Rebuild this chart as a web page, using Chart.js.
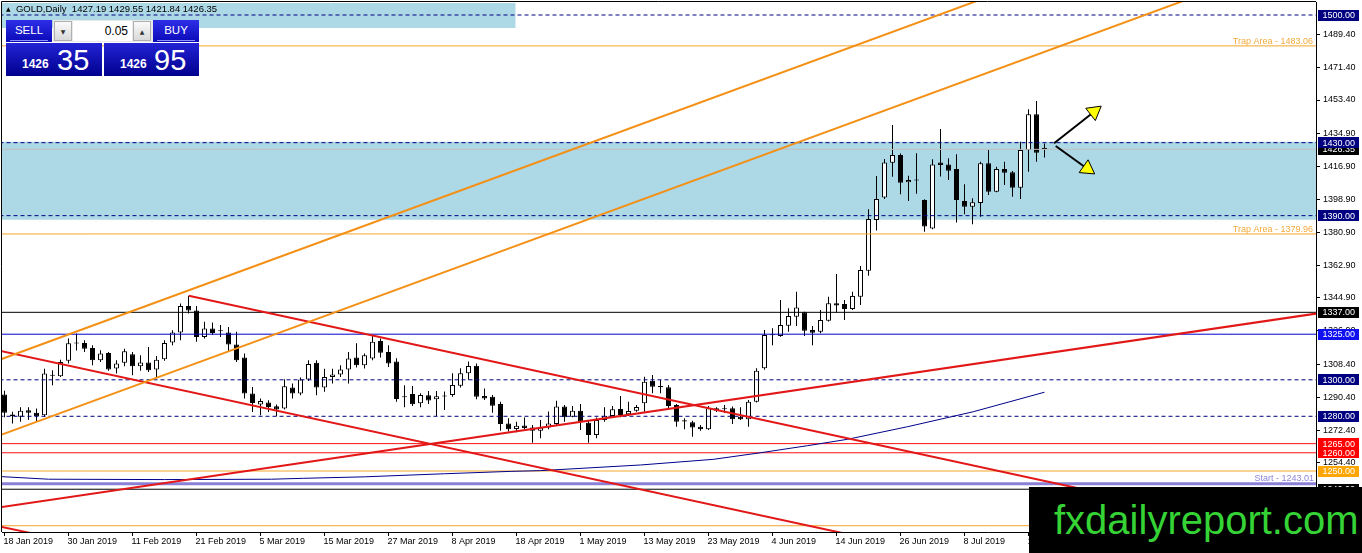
<!DOCTYPE html>
<html>
<head>
<meta charset="utf-8">
<script src="https://cdn.jsdelivr.net/npm/chart.js@4.4.0/dist/chart.umd.min.js"></script>
<style>
html,body{margin:0;padding:0;background:#fff;overflow:hidden;}
#wrap{position:relative;width:1362px;height:553px;}
#c{position:absolute;left:0;top:0;}
.ov{position:absolute;z-index:2;}
.hdr{left:6px;top:3px;font:9.5px "Liberation Sans",Arial,sans-serif;color:#000;white-space:pre;line-height:12px;}
.hdr .tri{font:6px "DejaVu Sans",sans-serif;vertical-align:1px;}
.btn{top:20px;height:22px;width:46px;background:linear-gradient(#2e2ee8,#0a0ab8);color:#fff;font:11.5px "Liberation Sans",Arial,sans-serif;text-align:center;line-height:21px;}
.btn .bar{position:absolute;left:4px;right:4px;bottom:1px;height:1px;background:#8f90ff;}
.lot{left:53px;top:20px;width:100px;height:22px;background:#e9e9e9;}
.lot .arr{position:absolute;top:1px;width:18px;height:20px;background:linear-gradient(#fafafa,#d9d9d9);border:1px solid #b0b0b0;box-sizing:border-box;font:6px "DejaVu Sans",sans-serif;color:#333;text-align:center;line-height:19px;}
.lot .inp{position:absolute;left:20px;top:1px;width:59px;height:20px;background:#fff;font:12px "Liberation Sans",Arial,sans-serif;color:#000;text-align:right;line-height:20px;padding-right:4px;box-sizing:border-box;}
.px{top:43px;height:33px;background:linear-gradient(#2323d6,#00008e);color:#fff;}
.px .sm{position:absolute;bottom:5px;font:bold 12px "Liberation Sans",Arial,sans-serif;}
.px .lg{position:absolute;bottom:1px;font:29px "Liberation Sans",Arial,sans-serif;line-height:29px;}
.wm{left:1029px;top:487px;width:333px;height:66px;background:#000;}
.wm span{position:absolute;left:25px;top:10px;font:40px "Liberation Sans",Arial,sans-serif;color:#35d335;line-height:46px;white-space:nowrap;}
</style>
</head>
<body>
<div id="wrap">
<canvas id="c" width="1362" height="553"></canvas>
<div class="ov hdr" id="hdr"></div>
<div class="ov btn" style="left:6px;">SELL<div class="bar"></div></div>
<div class="ov lot"><div class="arr" style="left:1px;">▼</div><div class="inp">0.05</div><div class="arr" style="left:80px;">▲</div></div>
<div class="ov btn" style="left:153px;">BUY<div class="bar"></div></div>
<div class="ov px" style="left:6px;width:96px;"><span class="sm" style="left:16px;">1426</span><span class="lg" style="left:51px;">35</span></div>
<div class="ov px" style="left:104px;width:95px;"><span class="sm" style="left:16px;">1426</span><span class="lg" style="left:50px;">95</span></div>
<div class="ov wm"><span>fxdailyreport.com</span></div>
</div>
<script>
// ---------------- DATA ----------------
const tickLabels = ['18 Jan 2019','30 Jan 2019','11 Feb 2019','21 Feb 2019','5 Mar 2019','15 Mar 2019','27 Mar 2019','8 Apr 2019','18 Apr 2019','1 May 2019','13 May 2019','23 May 2019','4 Jun 2019','14 Jun 2019','26 Jun 2019','8 Jul 2019','18 Jul 2019'];
const tickBars = [0,8,16,24,32,40,48,56,64,72,80,88,96,104,112,120,128];
const yTicks = [1489.4,1471.4,1453.4,1434.9,1416.9,1398.9,1380.9,1362.9,1344.9,1326.9,1308.4,1290.4,1272.4,1254.4,1236.4];

const opens = [1292,1281,1279.8,1283.3,1282,1280.5,1302.6,1302,1310.4,1319.9,
1320.2,1317.5,1310.7,1314.7,1306.2,1309.3,1314,1307.5,1309.5,1305.6,
1311.3,1320.4,1325.9,1340.4,1338,1323.5,1328.1,1327,1325.9,1319.4,
1312.2,1292.5,1286.4,1287.5,1285.5,1284.2,1295.8,1292.5,1300.2,1309.3,
1295.8,1301.6,1302.9,1305.6,1312.2,1308,1311.7,1321.3,1315.3,1310,
1291,1292.2,1287.1,1291.5,1289.4,1290.8,1291.7,1296.8,1303.6,1307.7,
1291.1,1290.7,1286.7,1276.1,1273,1275,1273.9,1272.1,1273.9,1275.8,
1285.3,1279.8,1283.1,1276.5,1269.7,1278,1280.2,1284,1281.1,1283.1,
1287.1,1299.5,1296.6,1295.9,1286.2,1277.8,1276.7,1274.3,1272.9,1283.1,
1284.2,1284.4,1279.8,1278.4,1288,1306.3,1324.8,1324,1329.7,1334.6,
1337,1327.3,1326.4,1332.4,1342,1341.6,1338.8,1345.6,1359.8,1387.6,
1400,1419,1423.2,1408.3,1409.6,1398.6,1383,1419.2,1418.1,1415.6,
1398,1394.9,1397,1418.7,1403.1,1415.6,1413.8,1405.3,1426,1445.6,
1427.19];
const highs = [1294,1282.5,1285,1285,1284.3,1306,1305.3,1311,1322.6,1325.4,
1321.7,1319,1316.2,1315.3,1310.7,1317,1315.3,1313.5,1318,1313,
1321.7,1327.2,1341.8,1346.1,1340.4,1331.8,1331.4,1330,1329,1326.3,
1314.4,1296,1289.7,1288.8,1286.4,1300.3,1298,1301.3,1310.7,1310.7,
1306,1306,1308,1315.3,1320,1314.4,1324.5,1322.6,1319,1311.8,
1297,1296.6,1292.6,1293.9,1293.9,1293.6,1303.6,1306.3,1310,1309,
1295.3,1291.7,1288,1278.9,1277,1279.4,1275.2,1278,1282.6,1288.5,
1286.2,1285.7,1286.7,1277.6,1279.4,1284.9,1285.7,1291.1,1288,1286.2,
1301.7,1302.6,1299.9,1297.2,1286.7,1278.9,1277.6,1275.2,1285.7,1285,
1286.2,1285.3,1284.9,1288.9,1306.3,1327.3,1328.2,1343.8,1339.2,1348.3,
1337.3,1329.5,1338.3,1345.6,1358,1343.8,1348.3,1362.4,1393.5,1411.7,
1421,1439.7,1424.1,1411.9,1424.2,1399,1420.9,1437.5,1421.4,1423.6,
1407.2,1399.5,1419.6,1426,1416.8,1419.6,1414.5,1430.5,1448.3,1452.9,
1429.55];
const lows = [1279.5,1276,1277,1278,1277,1279.8,1297,1301.6,1309,1316,
1315.3,1308,1309.8,1304.9,1303.4,1307.5,1302.5,1305,1304.3,1301.6,
1310.4,1319,1321.7,1336.4,1320.8,1322.6,1324.5,1323.5,1315.7,1309.8,
1289.7,1282.4,1280.6,1282.4,1280,1283.7,1289.7,1291.6,1299.4,1291.6,
1293.4,1298,1301.6,1298,1306.7,1306.2,1310.7,1312.2,1307,1288,
1285,1285.6,1285,1286.7,1280.2,1283.4,1290.7,1295.8,1300,1289.3,
1288.9,1282,1272.1,1271.6,1271.2,1272.5,1265.5,1268,1272.9,1275.2,
1277,1279.5,1272.5,1265.5,1267.9,1277,1279.5,1279.5,1280.2,1282.5,
1282.5,1292.6,1292.6,1284.4,1274.3,1272.9,1268.8,1272.1,1272.5,1282.3,
1282,1275.8,1277.9,1274.3,1287.5,1305.5,1319,1323.6,1326.4,1329.5,
1324,1319,1325.5,1331.9,1336.8,1332.8,1338.3,1341,1357,1381.8,
1399.1,1411.3,1401.7,1398,1402,1381.2,1382.6,1411.4,1409.5,1386.3,
1390.7,1385.3,1389.4,1401.3,1402.8,1406.8,1400.4,1399.1,1414.1,1419.6,
1421.84];
const closes = [1282,1280,1283,1282,1280,1303.5,1302.2,1309.8,1320,1320.2,
1317,1310.7,1314.4,1305.6,1309,1315.7,1307.5,1309.5,1305.3,1311,
1320.2,1325.9,1340.4,1338,1323.5,1328.1,1325.7,1326.6,1319.4,1310.7,
1292.5,1287.3,1288.4,1285.1,1283.7,1296.5,1292.5,1300.2,1308.6,1295.8,
1301.6,1302.9,1305.6,1311.7,1308,1313.5,1320.8,1314.8,1309,1289.5,
1290.5,1286.6,1291.7,1288.6,1291,1291.1,1297.2,1303.6,1307.6,1290.7,
1289.8,1285.8,1275.8,1272.9,1274.8,1273.6,1272.1,1273.9,1276.1,1285.3,
1279.5,1283.1,1277,1269.7,1278,1280.3,1283.8,1280.7,1282.9,1285.1,
1299,1296.2,1295.9,1285.6,1277,1277.2,1273.9,1272.9,1284.4,1284.4,
1283.9,1278.4,1278.4,1288,1305,1324.6,1324.4,1330,1335,1339.7,
1326.9,1325.8,1332.8,1342,1340.7,1338.8,1346,1360.2,1388.2,1399.1,
1419.2,1423.2,1408,1409.5,1409.2,1384,1418.1,1417.8,1414.6,1398.6,
1394.9,1397.3,1418.7,1403.1,1415.6,1413.5,1405.3,1426,1445.6,1424.5,
1426.35];

const maBars   = [-0.3,5.5,20,33.4,37.4,45,55,63.3,67,79.5,88.6,94.5,100.4,105.4,112.9,121.1,130];
const maValues = [1246.9,1245.5,1245.3,1245.5,1246.0,1246.8,1248.5,1249.8,1250.2,1253.3,1256.4,1260.0,1263.9,1267.4,1274.3,1282.5,1293.2];

const zoneTop = 1430.5, zoneBottom = 1387.8;
const topBoxTop = 1506.6, topBoxBottom = 1492.9, topBoxEndBar = 63.9;
const navyDashedLevels = [1500,1430,1390,1300,1280];
const trapLevels = [1483.06,1379.96];
const blackLevels = [1337,1240];
const blueLevels = [1325];
const redLevels = [1265,1260];
const orangeLevels = [1250,1220];
const startLevel = 1243.01;
const bidPrice = 1426.35;

const upperOrange = [[-1,1310.4],[126,1514.9]];
const lowerOrange = [[-1,1268.9],[150,1512.0]];
const redUpper    = [[23.04,1346.1],[170,1206.6]];
const redLower    = [[-1,1316.35],[110,1211.0]];
const redShort    = [[-1,1220.0],[6,1213.4]];
const redRising   = [[-1,1229.8],[170,1340.2]];
const arrowUp     = [[131.2,1429.7],[136.2,1447.0]];
const arrowDown   = [[131.4,1428.2],[135.35,1415.7]];

// ---------------- STYLE ----------------
const FONT = '"Liberation Sans", Arial, sans-serif';
const NAVY = '#000080', TRAP = '#F4A52C', TRAP_TXT = '#F2AA3C', CHAN = '#F39015', RED = '#E21818',
      HRED = '#FF1010', BLUE = '#0000CD', START = '#8A80D6', START_TXT = '#8C84D8', BID = '#C0C0C0',
      MA = '#00008B', ZONE = '#ADD8E6';
const X_MIN = -0.3125, X_MAX = 163.9375, Y_MIN = 1216.56, Y_MAX = 1507.13;
const FAR_L = -5, FAR_R = 200;

const last = opens.length - 1;
document.getElementById('hdr').innerHTML = '<span class="tri">▲</span>  GOLD,Daily  ' +
  [opens[last], highs[last], lows[last], closes[last]].map(v => v.toFixed(2)).join(' ');

function hline(v, color, width, dash, order) {
  return {type:'line', data:[{x:FAR_L,y:v},{x:FAR_R,y:v}], borderColor:color, borderWidth:width,
          borderDash:dash||[], pointRadius:0, order:order, clip:0};
}
function seg(pts, color, width, order) {
  return {type:'line', data:pts.map(p => ({x:p[0], y:p[1]})), borderColor:color, borderWidth:width,
          pointRadius:0, order:order, clip:0};
}

const idx = opens.map((_, i) => i);
const datasets = [];
datasets.push({type:'line', data:[{x:FAR_L,y:zoneTop},{x:FAR_R,y:zoneTop}], borderWidth:0, borderColor:'transparent', pointRadius:0, order:100, clip:0});
datasets.push({type:'line', data:[{x:FAR_L,y:zoneBottom},{x:FAR_R,y:zoneBottom}], borderWidth:0, borderColor:'transparent', pointRadius:0, fill:'-1', backgroundColor:ZONE, order:100, clip:0});
datasets.push({type:'line', data:[{x:FAR_L,y:topBoxTop},{x:topBoxEndBar,y:topBoxTop}], borderWidth:0, borderColor:'transparent', pointRadius:0, order:100, clip:0});
datasets.push({type:'line', data:[{x:FAR_L,y:topBoxBottom},{x:topBoxEndBar,y:topBoxBottom}], borderWidth:0, borderColor:'transparent', pointRadius:0, fill:'-1', backgroundColor:ZONE, order:100, clip:0});
datasets.push({type:'bar', data: idx.map(i => ({x:i, y:[lows[i], highs[i]]})), backgroundColor:'#000',
  borderWidth:0, barThickness:1, grouped:false, inflateAmount:0, order:60});
datasets.push({type:'bar', data: idx.map(i => ({x:i, y:[opens[i], closes[i]]})),
  backgroundColor: c => (closes[c.dataIndex] >= opens[c.dataIndex] ? '#FFFFFF' : '#000000'),
  borderColor:'#000', borderWidth:1, borderSkipped:false, barThickness:5, grouped:false,
  inflateAmount:0, minBarLength:1, order:55});
datasets.push(hline(bidPrice, BID, 1, null, 45));
navyDashedLevels.forEach(v => datasets.push(hline(v, NAVY, 1, [4,3], 40)));
trapLevels.forEach(v => datasets.push(hline(v, TRAP, 1, null, 40)));
blackLevels.forEach(v => datasets.push(hline(v, '#000', 1, null, 40)));
blueLevels.forEach(v => datasets.push(hline(v, BLUE, 1, null, 40)));
redLevels.forEach(v => datasets.push(hline(v, HRED, 1, null, 40)));
orangeLevels.forEach(v => datasets.push(hline(v, TRAP, 1, null, 40)));
datasets.push(hline(startLevel, START, 3, null, 40));
datasets.push({type:'line', data: maBars.map((b, i) => ({x:b, y:maValues[i]})), borderColor:MA, borderWidth:1, pointRadius:0, order:35, clip:0});
datasets.push(seg(upperOrange, CHAN, 2, 30));
datasets.push(seg(lowerOrange, CHAN, 2, 30));
datasets.push(seg(redUpper, RED, 2, 30));
datasets.push(seg(redLower, RED, 2, 30));
datasets.push(seg(redShort, RED, 2, 30));
datasets.push(seg(redRising, RED, 2, 30));
[[arrowUp, 52], [arrowDown, 125]].forEach(([pts, rot]) => {
  datasets.push({type:'line', data: pts.map(p => ({x:p[0], y:p[1]})), borderColor:'#000', borderWidth:2,
    pointRadius:[0,9], pointStyle:'triangle', pointRotation:[0,rot], pointBackgroundColor:'#FFFF00',
    pointBorderColor:'#000', pointBorderWidth:1, order:10, clip:false});
});

const decor = {
  id:'decor',
  afterDraw(chart) {
    const {ctx, chartArea:a, scales:{y}} = chart;
    ctx.save();
    ctx.strokeStyle = '#000'; ctx.lineWidth = 1;
    ctx.beginPath(); ctx.moveTo(a.left - 0.5, a.bottom); ctx.lineTo(a.left - 0.5, a.top - 0.5); ctx.lineTo(a.right, a.top - 0.5); ctx.stroke();
    ctx.font = '9px ' + FONT;
    ctx.textAlign = 'right'; ctx.textBaseline = 'alphabetic';
    ctx.fillStyle = TRAP_TXT;
    trapLevels.forEach(v => ctx.fillText('Trap Area - ' + v.toFixed(2), a.right - 3, y.getPixelForValue(v) - 2));
    ctx.fillStyle = START_TXT;
    ctx.fillText('Start - ' + startLevel.toFixed(2), a.right - 2, y.getPixelForValue(startLevel) - 3);
    const boxes = [[bidPrice,'#000']]
      .concat(navyDashedLevels.map(v => [v, NAVY]))
      .concat(blackLevels.map(v => [v, '#000']))
      .concat(blueLevels.map(v => [v, '#1010F0']))
      .concat(redLevels.map(v => [v, '#FF0000']))
      .concat([[orangeLevels[0], '#FFA500']]);
    ctx.textAlign = 'left'; ctx.textBaseline = 'middle';
    boxes.forEach(([v, c]) => {
      const py = y.getPixelForValue(v);
      ctx.fillStyle = c;
      ctx.fillRect(a.right + 2, Math.round(py - 5.5), 41, 11);
      ctx.fillStyle = '#fff';
      ctx.fillText(v.toFixed(2), a.right + 6.5, py + 0.5);
    });
    ctx.restore();
  }
};

Chart.defaults.font.family = FONT;
new Chart(document.getElementById('c'), {
  type:'bar',
  data:{datasets},
  plugins:[decor],
  options:{
    responsive:false, maintainAspectRatio:false, animation:false, events:[],
    layout:{autoPadding:false, padding:{left:2, top:2, right:0, bottom:0}},
    plugins:{legend:{display:false}, tooltip:{enabled:false}},
    scales:{
      x:{type:'linear', min:X_MIN, max:X_MAX, offset:false,
        afterBuildTicks: s => { s.ticks = tickBars.map(v => ({value:v})); },
        afterFit: s => { s.height = 21; s.paddingLeft = 0; s.paddingRight = 0; },
        ticks:{autoSkip:false, maxRotation:0, minRotation:0, align:'start', padding:0, labelOffset:-1,
          color:'#000', font:{size:9, family:FONT},
          callback: v => { const k = tickBars.indexOf(v); return k >= 0 ? tickLabels[k] : ''; }},
        grid:{drawOnChartArea:false, drawTicks:true, tickLength:4, color:'#000', offset:false},
        border:{display:true, color:'#000', width:1}
      },
      y:{type:'linear', position:'right', min:Y_MIN, max:Y_MAX,
        afterBuildTicks: s => { s.ticks = yTicks.map(v => ({value:v})); },
        afterFit: s => { s.width = 46; s.paddingTop = 0; s.paddingBottom = 0; },
        ticks:{color:'#000', font:{size:9, family:FONT}, padding:3, crossAlign:'near',
          callback: v => Number(v).toFixed(2)},
        grid:{drawOnChartArea:false, drawTicks:true, tickLength:4, color:'#000'},
        border:{display:true, color:'#000', width:1}
      }
    }
  }
});
</script>
</body>
</html>
